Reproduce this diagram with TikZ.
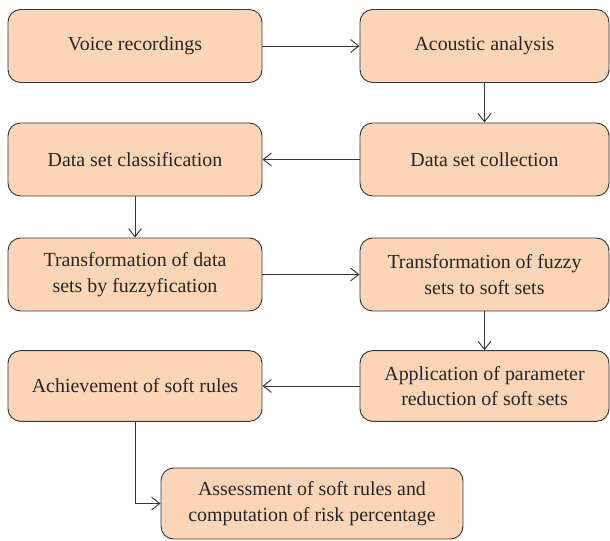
\documentclass[tikz,border=0pt]{standalone}
\usepackage{fontspec}
\setmainfont{Liberation Serif}
\usetikzlibrary{arrows.meta}
\definecolor{boxfill}{HTML}{FBD5B5}
\definecolor{boxline}{HTML}{363636}

\tikzset{
  box/.style={draw=boxline, fill=boxfill, line width=0.8pt, rounded corners=0.38cm,
    minimum height=2.19cm, align=center, inner sep=2pt,
    font=\fontsize{17}{22}\selectfont, text=black!85},
  leftbox/.style={box, minimum width=7.62cm},
  rightbox/.style={box, minimum width=7.47cm},
  flow/.style={draw=boxline, line width=0.8pt, -{Straight Barb[length=7pt,width=11pt]}}
}

\begin{document}
\begin{tikzpicture}[x=0.03cm, y=-0.03cm]
      \useasboundingbox (0,0) rectangle (610,541);
      \node[leftbox] (voice) at (135,46) {Voice recordings};
      \node[rightbox] (acoustic) at (484.5,46) {Acoustic analysis};
      \node[leftbox] (classif) at (135,159.5) {Data set classification};
      \node[rightbox] (collect) at (484.5,159.5) {Data set collection};
      \node[leftbox] (fuzzify) at (135,274.5) {Transformation of data\\sets by fuzzyfication};
      \node[rightbox] (softsets) at (484.5,274.5) {Transformation of fuzzy\\sets to soft sets};
      \node[leftbox, minimum height=2.12cm] (rules) at (135,386) {Achievement of soft rules};
      \node[rightbox, minimum height=2.12cm] (reduce) at (484.5,386) {Application of parameter\\reduction of soft sets};
      \node[box, minimum width=9.06cm, minimum height=2.13cm] (assess) at (312,503.5) {Assessment of soft rules and\\computation of risk percentage};
      \draw[flow] (voice) -- (acoustic);
      \draw[flow] (acoustic) -- (collect);
      \draw[flow] (collect) -- (classif);
      \draw[flow] (classif) -- (fuzzify);
      \draw[flow] (fuzzify) -- (softsets);
      \draw[flow] (softsets) -- (reduce);
      \draw[flow] (reduce) -- (rules);
      \draw[flow] (rules.south) |- (assess.west);
    \end{tikzpicture}
\end{document}
